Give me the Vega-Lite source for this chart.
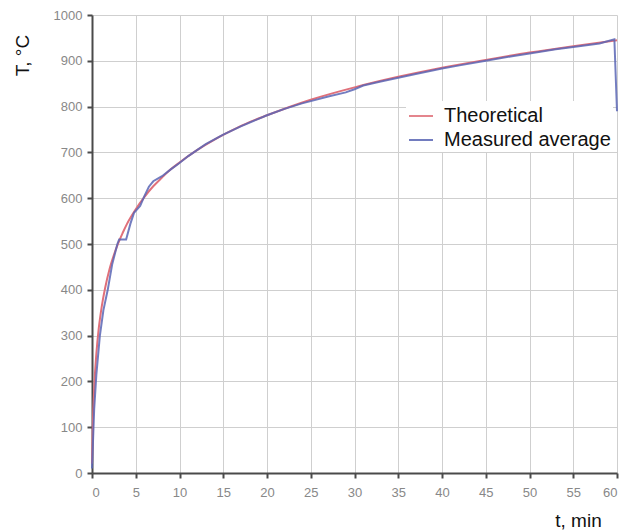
{
  "$schema": "https://vega.github.io/schema/vega-lite/v6.json",
  "width": 525,
  "height": 458,
  "autosize": "none",
  "padding": {"left": 92, "top": 15, "right": 8, "bottom": 59},
  "background": "white",
  "config": {
    "font": "Liberation Sans",
    "view": {"stroke": null},
    "axis": {
      "grid": true,
      "gridColor": "#cfcfcf",
      "gridWidth": 1,
      "domainColor": "#4a4a4a",
      "domainWidth": 2,
      "tickColor": "#4a4a4a",
      "tickWidth": 2,
      "tickSize": 5,
      "labelColor": "#888888",
      "labelFontSize": 13,
      "titleFontWeight": "normal",
      "titleColor": "#111111",
      "titleFontSize": 19
    }
  },
  "datasets": {
    "curves": [
      {"t": 0, "T": 20, "series": "Theoretical"},
      {"t": 0.1, "T": 108, "series": "Theoretical"},
      {"t": 0.25, "T": 185, "series": "Theoretical"},
      {"t": 0.5, "T": 261, "series": "Theoretical"},
      {"t": 0.75, "T": 312, "series": "Theoretical"},
      {"t": 1, "T": 349, "series": "Theoretical"},
      {"t": 1.25, "T": 379, "series": "Theoretical"},
      {"t": 1.5, "T": 404, "series": "Theoretical"},
      {"t": 2, "T": 445, "series": "Theoretical"},
      {"t": 2.5, "T": 476, "series": "Theoretical"},
      {"t": 3, "T": 502, "series": "Theoretical"},
      {"t": 3.5, "T": 524, "series": "Theoretical"},
      {"t": 4, "T": 544, "series": "Theoretical"},
      {"t": 5, "T": 576, "series": "Theoretical"},
      {"t": 6, "T": 603, "series": "Theoretical"},
      {"t": 7, "T": 626, "series": "Theoretical"},
      {"t": 8, "T": 645, "series": "Theoretical"},
      {"t": 9, "T": 663, "series": "Theoretical"},
      {"t": 10, "T": 678, "series": "Theoretical"},
      {"t": 12, "T": 705, "series": "Theoretical"},
      {"t": 14, "T": 728, "series": "Theoretical"},
      {"t": 16, "T": 748, "series": "Theoretical"},
      {"t": 18, "T": 766, "series": "Theoretical"},
      {"t": 20, "T": 781, "series": "Theoretical"},
      {"t": 25, "T": 815, "series": "Theoretical"},
      {"t": 30, "T": 842, "series": "Theoretical"},
      {"t": 35, "T": 865, "series": "Theoretical"},
      {"t": 40, "T": 885, "series": "Theoretical"},
      {"t": 45, "T": 902, "series": "Theoretical"},
      {"t": 50, "T": 918, "series": "Theoretical"},
      {"t": 55, "T": 932, "series": "Theoretical"},
      {"t": 60, "T": 945, "series": "Theoretical"},
      {"t": 0, "T": 10, "series": "Measured average"},
      {"t": 0.25, "T": 140, "series": "Measured average"},
      {"t": 0.5, "T": 215, "series": "Measured average"},
      {"t": 0.9, "T": 300, "series": "Measured average"},
      {"t": 1.3, "T": 355, "series": "Measured average"},
      {"t": 1.8, "T": 400, "series": "Measured average"},
      {"t": 2.3, "T": 455, "series": "Measured average"},
      {"t": 2.9, "T": 500, "series": "Measured average"},
      {"t": 3.1, "T": 510, "series": "Measured average"},
      {"t": 3.9, "T": 510, "series": "Measured average"},
      {"t": 4.4, "T": 545, "series": "Measured average"},
      {"t": 4.8, "T": 568, "series": "Measured average"},
      {"t": 5.5, "T": 583, "series": "Measured average"},
      {"t": 6.0, "T": 605, "series": "Measured average"},
      {"t": 6.5, "T": 625, "series": "Measured average"},
      {"t": 7.0, "T": 637, "series": "Measured average"},
      {"t": 8.0, "T": 648, "series": "Measured average"},
      {"t": 9.0, "T": 663, "series": "Measured average"},
      {"t": 10, "T": 677, "series": "Measured average"},
      {"t": 11, "T": 692, "series": "Measured average"},
      {"t": 12, "T": 705, "series": "Measured average"},
      {"t": 13, "T": 718, "series": "Measured average"},
      {"t": 15, "T": 739, "series": "Measured average"},
      {"t": 17, "T": 757, "series": "Measured average"},
      {"t": 20, "T": 781, "series": "Measured average"},
      {"t": 22, "T": 795, "series": "Measured average"},
      {"t": 24, "T": 807, "series": "Measured average"},
      {"t": 25, "T": 812, "series": "Measured average"},
      {"t": 27, "T": 822, "series": "Measured average"},
      {"t": 29, "T": 831, "series": "Measured average"},
      {"t": 30, "T": 838, "series": "Measured average"},
      {"t": 31, "T": 846, "series": "Measured average"},
      {"t": 33, "T": 855, "series": "Measured average"},
      {"t": 35, "T": 863, "series": "Measured average"},
      {"t": 37, "T": 871, "series": "Measured average"},
      {"t": 40, "T": 883, "series": "Measured average"},
      {"t": 42, "T": 890, "series": "Measured average"},
      {"t": 45, "T": 900, "series": "Measured average"},
      {"t": 48, "T": 910, "series": "Measured average"},
      {"t": 50, "T": 916, "series": "Measured average"},
      {"t": 53, "T": 925, "series": "Measured average"},
      {"t": 55, "T": 930, "series": "Measured average"},
      {"t": 58, "T": 938, "series": "Measured average"},
      {"t": 59.7, "T": 947, "series": "Measured average"},
      {"t": 60, "T": 790, "series": "Measured average"}
    ]
  },
  "data": {"name": "curves"},
  "encoding": {
    "x": {
      "field": "t", "type": "quantitative",
      "scale": {"domain": [0, 60], "nice": false},
      "axis": {
        "values": [0, 5, 10, 15, 20, 25, 30, 35, 40, 45, 50, 55, 60],
        "labelPadding": 8,
        "title": "t, min",
        "titleX": 486, "titleY": 47,
        "titleAlign": "center", "titleBaseline": "middle"
      }
    },
    "y": {
      "field": "T", "type": "quantitative",
      "scale": {"domain": [0, 1000], "nice": false},
      "axis": {
        "values": [0, 100, 200, 300, 400, 500, 600, 700, 800, 900, 1000],
        "format": "d",
        "labelPadding": 5,
        "title": "T, °C",
        "titleAngle": -90,
        "titleX": -70, "titleY": 40,
        "titleAlign": "center", "titleBaseline": "middle"
      }
    },
    "color": {
      "field": "series", "type": "nominal",
      "scale": {"domain": ["Theoretical", "Measured average"], "range": ["#e0707a", "#5a66b5"]},
      "legend": {
        "title": null,
        "orient": "none",
        "legendX": 314, "legendY": 86,
        "fillColor": "white",
        "padding": 2,
        "symbolType": "stroke",
        "symbolSize": 576,
        "symbolStrokeWidth": 2,
        "labelFontSize": 20,
        "labelLimit": 300,
        "labelColor": "#111111",
        "labelOffset": 10,
        "rowPadding": 1
      }
    }
  },
  "layer": [
    {
      "transform": [{"filter": "datum.series === 'Theoretical'"}],
      "mark": {"type": "line", "strokeWidth": 2, "interpolate": "monotone"}
    },
    {
      "transform": [{"filter": "datum.series === 'Measured average'"}],
      "mark": {"type": "line", "strokeWidth": 2, "opacity": 0.85}
    }
  ]
}
